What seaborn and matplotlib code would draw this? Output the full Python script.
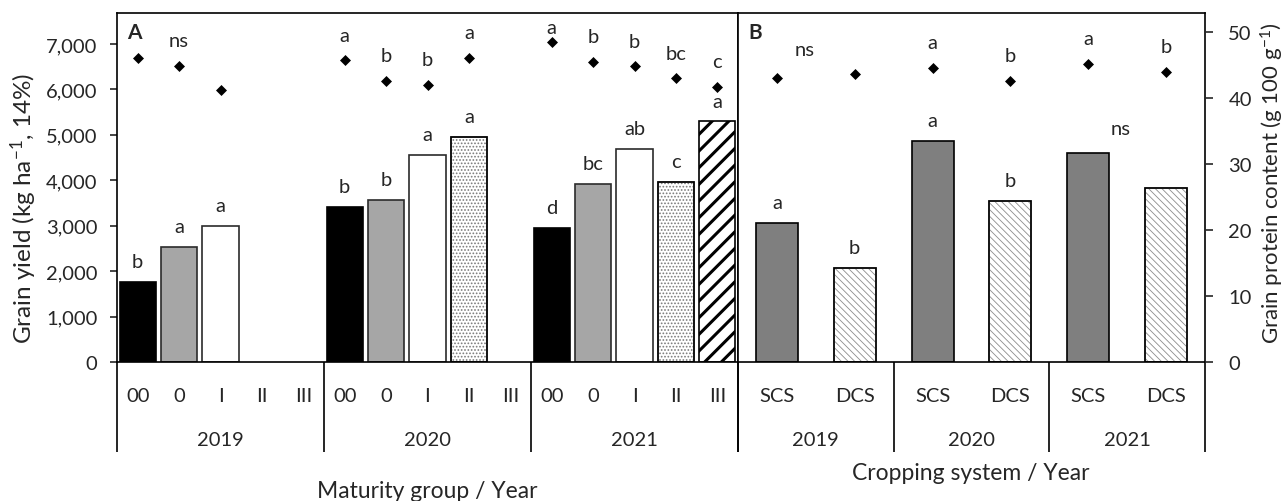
import numpy as np
import pandas as pd
import matplotlib
matplotlib.use("Agg")
import matplotlib.pyplot as plt
import seaborn as sns
from matplotlib.ticker import FuncFormatter
from matplotlib.patches import Rectangle
from matplotlib.transforms import blended_transform_factory

# ---------------- data ----------------
years = ["2019", "2020", "2021"]
maturity_groups = ["00", "0", "I", "II", "III"]
cropping_systems = ["SCS", "DCS"]

# Panel A: grain yield (kg/ha) and protein (g/100 g) by maturity group
mg_yield_2019 = [1770, 2540, 3000, np.nan, np.nan]
mg_yield_2020 = [3420, 3570, 4560, 4960, np.nan]
mg_yield_2021 = [2950, 3920, 4690, 3970, 5300]
mg_protein_2019 = [46.0, 44.9, 41.2, np.nan, np.nan]
mg_protein_2020 = [45.7, 42.6, 42.0, 46.1, np.nan]
mg_protein_2021 = [48.5, 45.5, 44.8, 43.0, 41.7]
mg_yield_letters_2019 = ["b", "a", "a", "", ""]
mg_yield_letters_2020 = ["b", "b", "a", "a", ""]
mg_yield_letters_2021 = ["d", "bc", "ab", "c", "a"]
mg_protein_letters_2019 = ["", "ns", "", "", ""]
mg_protein_letters_2020 = ["a", "b", "b", "a", ""]
mg_protein_letters_2021 = ["a", "b", "b", "bc", "c"]

# Panel B: grain yield and protein by cropping system
cs_yield_2019 = [3060, 2080]
cs_yield_2020 = [4870, 3550]
cs_yield_2021 = [4600, 3840]
cs_protein_2019 = [43.0, 43.6]
cs_protein_2020 = [44.6, 42.6]
cs_protein_2021 = [45.2, 44.0]
cs_yield_letters_2019 = ["a", "b"]
cs_yield_letters_2020 = ["a", "b"]
cs_yield_letters_2021 = ["", ""]
cs_protein_letters_2019 = ["", ""]
cs_protein_letters_2020 = ["a", "b"]
cs_protein_letters_2021 = ["a", "b"]
cs_yield_group_notes = ["", "", "ns"]
cs_protein_group_notes = ["ns", "", ""]

yield_ticks = [0, 1000, 2000, 3000, 4000, 5000, 6000, 7000]
protein_ticks = [0, 10, 20, 30, 40, 50]

# ---------------- tables ----------------
def build_table(groups, yields, proteins, ylet, plet):
    rows = []
    for year, yv, pv, yl, pl in zip(years, yields, proteins, ylet, plet):
        for g, a, b, c, d in zip(groups, yv, pv, yl, pl):
            rows.append(dict(slot=f"{g}|{year}", year=year, group=g,
                             grain_yield=a, protein=b, ylet=c, plet=d))
    return pd.DataFrame(rows)

dfA = build_table(maturity_groups,
                  [mg_yield_2019, mg_yield_2020, mg_yield_2021],
                  [mg_protein_2019, mg_protein_2020, mg_protein_2021],
                  [mg_yield_letters_2019, mg_yield_letters_2020, mg_yield_letters_2021],
                  [mg_protein_letters_2019, mg_protein_letters_2020, mg_protein_letters_2021])
dfB = build_table(cropping_systems,
                  [cs_yield_2019, cs_yield_2020, cs_yield_2021],
                  [cs_protein_2019, cs_protein_2020, cs_protein_2021],
                  [cs_yield_letters_2019, cs_yield_letters_2020, cs_yield_letters_2021],
                  [cs_protein_letters_2019, cs_protein_letters_2020, cs_protein_letters_2021])

# ---------------- style ----------------
sns.set_style("ticks")
plt.rcParams["font.family"] = ["Lato", "DejaVu Sans"]
plt.rcParams["mathtext.default"] = "regular"
plt.rcParams["axes.linewidth"] = 1.2

FS = 14.5
W, H = 1287, 502
DPI = 100
fig = plt.figure(figsize=(W / DPI, H / DPI), dpi=DPI)

AX_TOP, AX_BOT = 14, 363
def box(x0, x1):
    return [x0 / W, 1 - AX_BOT / H, (x1 - x0) / W, (AX_BOT - AX_TOP) / H]

axA = fig.add_axes(box(117, 738))
axB = fig.add_axes(box(738, 1205))
axA2 = axA.twinx()
axB2 = axB.twinx()

Y_MAX = 7682
P_MAX = 52.88
AX_H_PX = AX_BOT - AX_TOP

mg_fill = {"00": "black", "0": "#a6a6a6", "I": "white", "II": "white", "III": "white"}
cs_fill = {"SCS": "#7f7f7f", "DCS": "white"}


def set_hatch_lw(p, lw):
    if hasattr(p, "set_hatch_linewidth"):
        p.set_hatch_linewidth(lw)


def style_bars(ax, df, order):
    lookup = df.set_index("slot")["group"]
    bars = list(ax.patches)
    for p in bars:
        idx = int(round(p.get_x() + p.get_width() / 2))
        g = lookup[order[idx]]
        p.set_linewidth(1.2)
        outline = False
        if g == "00":
            p.set_facecolor("black"); p.set_edgecolor("black")
        elif g == "0":
            p.set_facecolor("#a6a6a6"); p.set_edgecolor("#2b2b2b")
        elif g == "I":
            p.set_facecolor("white"); p.set_edgecolor("#2b2b2b")
        elif g == "II":
            p.set_facecolor("white"); p.set_edgecolor("#7a7a7a")
            p.set_hatch("....."); set_hatch_lw(p, 0.8)
            outline = True
        elif g == "III":
            p.set_facecolor("white"); p.set_edgecolor("black")
            p.set_hatch("//"); set_hatch_lw(p, 2.2)
        elif g == "SCS":
            p.set_facecolor("#7f7f7f"); p.set_edgecolor("black")
        elif g == "DCS":
            p.set_facecolor("white"); p.set_edgecolor("#8c8c8c")
            p.set_hatch("\\\\\\\\\\"); set_hatch_lw(p, 0.6)
            outline = True
        if outline:
            ax.add_patch(Rectangle((p.get_x(), p.get_y()), p.get_width(), p.get_height(),
                                   fill=False, edgecolor="black", linewidth=1.2, zorder=p.get_zorder() + 0.1))


def draw_panel(ax, ax2, df, groups, fill, width, order):
    sns.barplot(data=df.dropna(subset=["grain_yield"]), x="slot", y="grain_yield",
                order=order, hue="group", hue_order=groups, palette=fill,
                dodge=False, width=width, errorbar=None, legend=False, ax=ax)
    style_bars(ax, df, order)
    sns.stripplot(data=df.dropna(subset=["protein"]), x="slot", y="protein",
                  order=order, jitter=False, marker="D", color="black",
                  size=5.6, linewidth=0, ax=ax2)
    ax.set_ylim(0, Y_MAX)
    ax2.set_ylim(0, P_MAX)
    ax.set_xlim(-0.5, len(order) - 0.5)

    # significance letters above bars and above protein markers
    px_per_p = AX_H_PX / P_MAX
    cap = P_MAX - 14 / px_per_p
    for i, s in enumerate(order):
        r = df.set_index("slot").loc[s]
        if r["ylet"] and not np.isnan(r["grain_yield"]):
            ax.annotate(r["ylet"], xy=(i, r["grain_yield"]), xytext=(0, 14.4),
                        textcoords="offset points", ha="center", va="center", fontsize=FS)
        if r["plet"] and not np.isnan(r["protein"]):
            off = min(18.0, (cap - r["protein"]) * px_per_p * 0.72)
            ax2.annotate(r["plet"], xy=(i, r["protein"]), xytext=(0, off),
                         textcoords="offset points", ha="center", va="center", fontsize=FS)


slotsA = list(dfA["slot"])
slotsB = list(dfB["slot"])
draw_panel(axA, axA2, dfA, maturity_groups, mg_fill, 0.87, slotsA)
draw_panel(axB, axB2, dfB, cropping_systems, cs_fill, 0.54, slotsB)

# group-level "ns" notes in panel B
nB = len(cropping_systems)
for k, note in enumerate(cs_yield_group_notes):
    if note:
        sub = dfB[dfB["year"] == years[k]]
        axB.annotate(note, xy=(k * nB + 0.42, sub["grain_yield"].max()), xytext=(0, 17.5),
                     textcoords="offset points", ha="center", va="center", fontsize=FS)
for k, note in enumerate(cs_protein_group_notes):
    if note:
        sub = dfB[dfB["year"] == years[k]]
        axB2.annotate(note, xy=(k * nB + 0.36, sub["protein"].max()), xytext=(0, 18),
                      textcoords="offset points", ha="center", va="center", fontsize=FS)

# ---------------- axes cosmetics ----------------
for ax, groups, order in ((axA, maturity_groups, slotsA), (axB, cropping_systems, slotsB)):
    ax.set_xticks(range(len(order)))
    ax.set_xticklabels([s.split("|")[0] for s in order], fontsize=FS)
    ax.tick_params(axis="x", length=0, pad=18)
    ax.set_xlabel("")
    ax.set_ylabel("")
    for sp in ax.spines.values():
        sp.set_visible(True)
        sp.set_linewidth(1.2)
        sp.set_color("black")
    # year labels and separators below the category axis
    n = len(groups)
    trans = blended_transform_factory(ax.transData, ax.transAxes)
    for k, yr in enumerate(years):
        ax.annotate(yr, xy=((k + 0.5) * n - 0.5, 0), xycoords=trans,
                    xytext=(0, -55.5), textcoords="offset points",
                    ha="center", va="center", fontsize=FS)
    for k in range(len(years) + 1):
        ax.plot([k * n - 0.5] * 2, [0, -90 / AX_H_PX], transform=trans,
                color="black", lw=1.2, clip_on=False, solid_capstyle="butt")

for ax2 in (axA2, axB2):
    ax2.set_xlabel("")
    ax2.set_ylabel("")
    for sp in ax2.spines.values():
        sp.set_visible(False)

# left yield axis
axA.set_yticks(yield_ticks)
axA.yaxis.set_major_formatter(FuncFormatter(lambda v, _: f"{int(v):,}"))
axA.tick_params(axis="y", direction="out", length=5, width=1.2, pad=9, labelsize=FS)
axA.set_ylabel("Grain yield (kg ha$^{-1}$, 14%)", fontsize=17.5)
axA.yaxis.set_label_coords(-0.126, 0.444)
axA2.tick_params(axis="y", right=False, labelright=False)

axB.set_yticks(yield_ticks)
axB.tick_params(axis="y", left=False, labelleft=False)

# right protein axis
axB2.set_yticks(protein_ticks)
axB2.tick_params(axis="y", direction="out", length=5.8, width=1.2, pad=11, labelsize=FS)
axB2.set_ylabel("Grain protein content (g 100 g$^{-1}$)", fontsize=16)
axB2.yaxis.set_label_position("right")
axB2.yaxis.set_label_coords(1.116, 0.516)

# panel letters
axA.text(10 / 621, (AX_BOT - 33) / AX_H_PX, "A", transform=axA.transAxes,
         ha="left", va="center", fontsize=15, fontweight="bold")
axB.text(10 / 467, (AX_BOT - 33) / AX_H_PX, "B", transform=axB.transAxes,
         ha="left", va="center", fontsize=15, fontweight="bold")

# axis titles under each panel
fig.text(427 / W, 1 - 492 / H, "Maturity group / Year", ha="center", va="center", fontsize=16.5)
fig.text(971 / W, 1 - 473 / H, "Cropping system / Year", ha="center", va="center", fontsize=16.5)

fig.savefig("out.png", dpi=DPI)
